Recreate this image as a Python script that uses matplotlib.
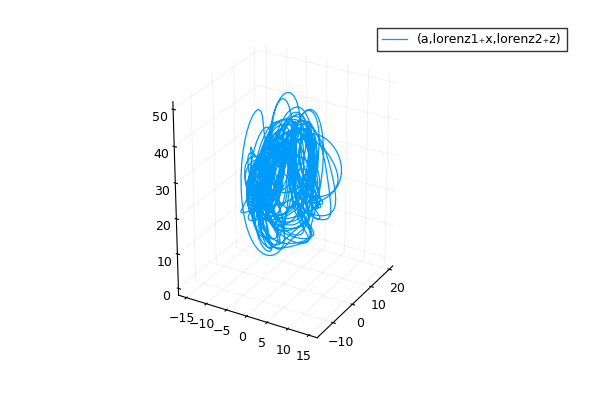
import numpy as np
import matplotlib
matplotlib.use('Agg')
from matplotlib import pyplot as plt

# Trajectory can't be read point-by-point; integrate the Lorenz system that produced it
sigma, rho, beta = 10.0, 28.0, 8.0 / 3.0
n_steps = 6000
dt = 0.01

def deriv(s):
    x, y, z = s
    return np.array([sigma * (y - x), x * (rho - z) - y, x * y - beta * z])

def integrate(s0):
    s = np.array(s0, dtype=float)
    out = np.empty((n_steps, 3))
    for i in range(n_steps):
        k1 = deriv(s)
        k2 = deriv(s + dt / 2 * k1)
        k3 = deriv(s + dt / 2 * k2)
        k4 = deriv(s + dt * k3)
        s = s + dt / 6 * (k1 + 2 * k2 + 2 * k3 + k4)
        out[i] = s
    return out

lorenz1 = integrate([1.0, 0.0, 0.0])
lorenz2 = integrate([0.0, 1.0, 1.05])
skip = 200
a = lorenz1[skip:, 0] * 0.45 + 1.0
lorenz1_x = lorenz2[skip:, 1] * 0.7
lorenz2_z = lorenz2[skip:, 2] + 3.0

fig = plt.figure(figsize=(6, 4), dpi=100)
ax = fig.add_axes([0.16, 0.04, 0.62, 0.96], projection='3d')
ax.plot(a, lorenz1_x, lorenz2_z, color='#009AFA', lw=0.9,
        label='(a,lorenz1\u208Ax,lorenz2\u208Az)')
ax.set_xlim(-17, 17)
ax.set_ylim(-18, 22)
ax.set_zlim(-2, 52)
ax.set_box_aspect((1, 1, 1.35), zoom=0.82)
ax.set_xticks([-15, -10, -5, 0, 5, 10, 15])
ax.set_yticks([-10, 0, 10, 20])
ax.set_zticks([0, 10, 20, 30, 40, 50])
ax.tick_params(labelsize=9, pad=0)
for axis in (ax.xaxis, ax.yaxis, ax.zaxis):
    axis.pane.fill = False
    axis.pane.set_edgecolor('white')
    axis._axinfo['grid']['color'] = (0, 0, 0, 0.07)
    axis._axinfo['grid']['linewidth'] = 0.5
ax.zaxis._axinfo['juggled'] = (1, 2, 0)
ax.view_init(elev=28, azim=-60)
fig.legend(loc='upper right', bbox_to_anchor=(0.955, 0.945), fancybox=False,
           edgecolor='black', fontsize=9)
plt.savefig('out.png')
